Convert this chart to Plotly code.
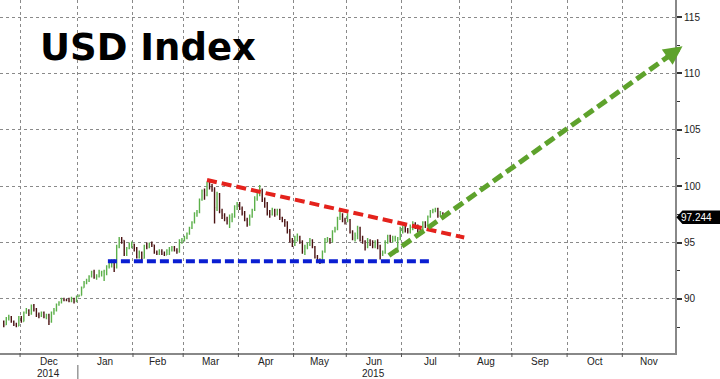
import pandas as pd
import plotly.graph_objects as go

# ---------------- data ----------------
START_DAY = "2014-11-20"
END_DAY = "2015-07-23"

OPEN = [
    88.0, 87.7, 88.3, 88.4, 88.0, 87.7, 87.6,
    88.4, 88.0, 88.8, 89.0, 88.7, 89.4, 89.1, 88.6, 88.5, 88.8, 88.4, 88.6, 88.0, 88.8, 89.0, 89.5, 89.7, 90.0, 89.9, 89.9, 89.8, 90.0, 89.8,
    90.2, 90.3, 91.0, 91.4, 91.6, 92.0, 92.4, 91.9, 92.0, 92.3, 92.4, 92.5, 92.9, 92.9, 93.4, 92.8, 94.6, 95.3, 95.2, 94.0, 94.5, 94.8,
    94.85, 94.5, 93.7, 94.1, 93.6, 94.7, 94.6, 94.9, 94.8, 94.1, 94.0, 94.2, 94.0, 93.9, 94.3, 94.4, 94.6, 94.3, 94.2, 95.2,
    95.3, 95.4, 95.8, 96.3, 96.8, 97.6, 97.7, 98.8, 99.6, 99.2, 100.3, 99.9, 99.7, 98.1, 99.3, 97.8, 97.4, 97.1, 96.9, 97.2, 97.3, 98.2,
    98.4, 98.0, 97.6, 97.0, 96.6, 97.3, 97.9, 98.9, 99.3, 99.7, 98.8, 98.5, 97.6, 97.5, 97.9, 97.5, 97.9, 97.2, 96.9, 96.8, 96.0, 95.1,
    94.8, 95.2, 95.5, 95.1, 94.2, 94.6, 94.8, 95.2, 94.6, 93.7, 93.4, 93.2, 94.2, 95.3, 95.3, 95.2, 96.0, 96.2, 97.2, 97.3, 97.0,
    96.9, 97.0, 95.9, 95.4, 95.6, 96.3, 95.2, 95.1, 94.6, 95.2, 94.9, 94.7, 95.0, 94.7, 94.0, 94.1, 95.0, 95.6, 95.2, 95.4, 94.8, 95.3,
    96.0, 96.3, 96.1, 96.0, 96.2, 96.7, 96.4, 96.2, 95.8, 96.8, 96.6, 97.3, 97.8, 97.9, 98.0, 97.4, 97.6,
]
HIGH = [
    88.1, 88.4, 88.6, 88.5, 88.1, 87.9, 88.5,
    88.5, 88.9, 89.2, 89.1, 89.5, 89.55, 89.2, 88.8, 88.9, 88.9, 88.7, 88.7, 88.9, 89.2, 89.6, 89.8, 90.1, 90.1, 90.0, 90.1, 90.2, 90.1, 90.3,
    90.4, 91.1, 91.6, 91.8, 92.1, 92.5, 92.6, 92.2, 92.6, 92.5, 92.6, 93.0, 93.2, 93.5, 93.5, 94.8, 95.5, 95.5, 95.2, 94.6, 95.0, 95.1,
    94.9, 94.6, 94.3, 94.2, 94.8, 95.0, 95.0, 95.1, 94.8, 94.3, 94.4, 94.4, 94.2, 94.4, 94.6, 94.7, 94.7, 94.5, 95.3, 95.4,
    95.6, 95.9, 96.4, 96.9, 97.7, 97.9, 98.9, 99.7, 99.8, 100.4, 100.5, 100.2, 99.9, 99.5, 99.4, 98.0, 97.6, 97.3, 97.5, 97.6, 98.3, 98.6,
    98.6, 98.2, 97.8, 97.2, 97.5, 98.0, 99.1, 99.4, 100.1, 99.8, 99.0, 98.6, 97.9, 98.1, 98.0, 98.0, 98.0, 97.3, 97.1, 96.9, 96.2, 95.4,
    95.6, 95.8, 95.6, 95.2, 94.8, 95.0, 95.4, 95.3, 94.7, 93.9, 93.6, 94.3, 95.4, 95.5, 95.4, 96.1, 96.4, 97.3, 97.9, 97.6, 97.2,
    97.6, 97.1, 96.1, 95.9, 96.5, 96.4, 95.6, 95.2, 95.4, 95.3, 95.2, 95.2, 95.3, 94.8, 94.3, 95.2, 95.7, 95.7, 95.6, 95.6, 95.5, 96.4,
    96.5, 96.5, 96.3, 96.6, 96.9, 96.8, 96.6, 96.3, 96.9, 96.9, 97.4, 97.9, 98.0, 98.1, 98.1, 97.8, 97.7,
]
LOW = [
    87.5, 87.7, 88.1, 87.9, 87.6, 87.5, 87.6,
    87.9, 88.0, 88.7, 88.5, 88.6, 88.9, 88.4, 88.3, 88.4, 88.3, 88.2, 87.7, 87.9, 88.6, 88.9, 89.4, 89.6, 89.8, 89.8, 89.7, 89.7, 89.6, 89.7,
    90.2, 90.3, 91.0, 91.3, 91.5, 91.9, 91.8, 91.7, 91.9, 92.0, 91.6, 92.1, 92.7, 92.8, 92.4, 92.7, 94.5, 94.9, 93.8, 93.8, 94.4, 94.5,
    94.2, 93.6, 93.6, 93.45, 93.6, 94.4, 94.5, 94.6, 94.0, 93.9, 93.9, 93.9, 93.8, 93.9, 93.9, 94.2, 94.2, 94.0, 94.1, 94.9,
    95.1, 95.3, 95.7, 96.2, 96.7, 97.3, 97.6, 98.7, 98.8, 99.1, 99.7, 99.5, 96.7, 97.8, 97.6, 97.1, 96.9, 96.6, 96.3, 96.8, 97.2, 97.9,
    97.9, 97.4, 96.9, 96.4, 96.5, 97.2, 97.8, 98.7, 99.1, 98.6, 98.1, 97.4, 97.2, 97.4, 97.3, 97.4, 97.0, 96.8, 96.4, 95.8, 95.0, 94.6,
    94.7, 95.1, 94.9, 94.0, 93.9, 94.4, 94.7, 94.5, 93.6, 93.3, 93.1, 93.2, 94.1, 95.0, 94.9, 95.0, 95.9, 96.1, 97.0, 96.8, 96.6,
    96.8, 95.8, 95.2, 95.1, 95.3, 95.1, 94.9, 94.3, 94.5, 94.7, 94.5, 94.5, 94.4, 93.5, 93.8, 94.0, 94.9, 95.0, 95.0, 95.1, 94.1, 95.2,
    95.8, 95.9, 95.8, 95.8, 96.1, 96.2, 95.9, 95.7, 95.8, 96.3, 96.5, 97.2, 97.6, 97.7, 97.2, 97.3, 97.1,
]
CLOSE = [
    87.7, 88.3, 88.4, 88.0, 87.7, 87.6, 88.4,
    88.0, 88.8, 89.0, 88.7, 89.4, 89.1, 88.6, 88.5, 88.8, 88.4, 88.6, 88.0, 88.8, 89.0, 89.5, 89.7, 90.0, 89.9, 89.9, 89.8, 90.0, 89.8, 90.2,
    90.3, 91.0, 91.4, 91.6, 92.0, 92.4, 91.9, 92.0, 92.3, 92.4, 92.5, 92.9, 92.9, 93.4, 92.8, 94.6, 95.3, 95.2, 94.0, 94.5, 94.8, 94.85,
    94.5, 93.7, 94.1, 93.6, 94.7, 94.6, 94.9, 94.8, 94.1, 94.0, 94.2, 94.0, 93.9, 94.3, 94.4, 94.6, 94.3, 94.2, 95.2, 95.3,
    95.4, 95.8, 96.3, 96.8, 97.6, 97.7, 98.8, 99.6, 99.2, 100.3, 99.9, 99.7, 98.1, 99.3, 97.8, 97.4, 97.1, 96.9, 97.2, 97.3, 98.2, 98.4,
    98.0, 97.6, 97.0, 96.6, 97.3, 97.9, 98.9, 99.3, 99.7, 98.8, 98.5, 97.6, 97.5, 97.9, 97.5, 97.9, 97.2, 96.9, 96.8, 96.0, 95.1, 94.8,
    95.2, 95.5, 95.1, 94.2, 94.6, 94.8, 95.2, 94.6, 93.7, 93.4, 93.2, 94.2, 95.3, 95.35, 95.2, 96.0, 96.2, 97.2, 97.3, 97.0, 96.9,
    97.0, 95.9, 95.4, 95.6, 96.3, 95.2, 95.1, 94.6, 95.2, 94.9, 94.7, 95.0, 94.7, 94.0, 94.1, 95.0, 95.6, 95.2, 95.4, 95.45, 95.3, 96.0,
    96.3, 96.1, 96.0, 96.2, 96.7, 96.4, 96.2, 95.8, 96.8, 96.6, 97.3, 97.8, 97.9, 98.0, 97.4, 97.6, 97.244,
]

LAST_LABEL = "97.244"

MONTH_STARTS = ["2014-12-01", "2015-01-01", "2015-02-01", "2015-03-01", "2015-04-01", "2015-05-01",
                "2015-06-01", "2015-07-01", "2015-08-01", "2015-09-01", "2015-10-01", "2015-11-01", "2015-12-01"]
MONTH_LABELS = ["Dec", "Jan", "Feb", "Mar", "Apr", "May", "Jun", "Jul", "Aug", "Sep", "Oct", "Nov"]
YEAR_LABELS = {"Dec": "2014", "Jun": "2015"}
YEAR_BREAK = "2015-01-01"

X_RANGE = ["2014-11-19", "2015-12-01"]
Y_RANGE = [85.21, 116.51]
Y_TICKS = [90, 95, 100, 105, 110, 115]

RESISTANCE = [("2015-03-13 12:00", 100.55), ("2015-08-05", 95.45)]   # red
SUPPORT = [("2015-01-19", 93.35), ("2015-07-16", 93.35)]             # blue
FORECAST = [("2015-06-24", 93.85), ("2015-12-04", 112.4)]            # green
FORECAST_HEAD_TAIL = ("2015-11-25", 111.3)

TITLE = "USD Index"

# ---------------- build ----------------
PLOT_H = 353.0
dates = pd.bdate_range(START_DAY, END_DAY) + pd.Timedelta(hours=12)
assert len(dates) == len(CLOSE) == len(OPEN) == len(HIGH) == len(LOW)

starts = [pd.Timestamp(s) for s in MONTH_STARTS]
grid_vals, label_vals = [], []
for s, e in zip(starts[:-1], starts[1:]):
    bd = pd.bdate_range(s, e - pd.Timedelta(days=1))
    grid_vals.append(bd[0])
    n = len(bd)
    label_vals.append(bd[n // 2] + pd.Timedelta(hours=12) if n % 2 else bd[n // 2])

fig = go.Figure()
fig.add_trace(go.Ohlc(
    x=dates, open=OPEN, high=HIGH, low=LOW, close=CLOSE,
    increasing=dict(line=dict(color="#5cb04a", width=1.4)),
    decreasing=dict(line=dict(color="#4a1212", width=1.4)),
    tickwidth=0.3, hoverinfo="skip", showlegend=False,
))

def dashed(pts, color, width, dash):
    (x0, y0), (x1, y1) = pts
    fig.add_shape(type="line", xref="x", yref="y", x0=x0, y0=y0, x1=x1, y1=y1,
                  line=dict(color=color, width=width, dash=dash), layer="above")

dashed(SUPPORT, "#0a1ed2", 4, "9px,4px")
dashed(RESISTANCE, "#e4221c", 4, "10px,5px")
dashed(FORECAST, "#5ea22c", 5, "11px,5px")

fig.add_annotation(x=FORECAST[1][0], y=FORECAST[1][1], xref="x", yref="y",
                   ax=FORECAST_HEAD_TAIL[0], ay=FORECAST_HEAD_TAIL[1], axref="x", ayref="y",
                   text="", showarrow=True, arrowhead=2, arrowsize=0.75, arrowwidth=5,
                   arrowcolor="#5ea22c")

# month boundary tick marks below the axis
for g in grid_vals:
    fig.add_shape(type="line", xref="x", yref="paper", x0=g, x1=g,
                  y0=0, y1=-4 / PLOT_H, line=dict(color="#555555", width=1))

# month labels and year labels
for lv, lab in zip(label_vals, MONTH_LABELS):
    fig.add_annotation(x=lv, y=-8 / PLOT_H, xref="x", yref="paper", text=lab,
                       showarrow=False, xanchor="center", yanchor="middle",
                       font=dict(family="Liberation Sans", size=10, color="#222222"))
    if lab in YEAR_LABELS:
        fig.add_annotation(x=lv, y=-20 / PLOT_H, xref="x", yref="paper", text=YEAR_LABELS[lab],
                           showarrow=False, xanchor="center", yanchor="middle",
                           font=dict(family="Liberation Sans", size=10, color="#222222"))

# year separator below axis
fig.add_shape(type="line", xref="x", yref="paper", x0=YEAR_BREAK, x1=YEAR_BREAK,
              y0=-12 / PLOT_H, y1=-26 / PLOT_H, line=dict(color="#999999", width=1.5))

# last value tag
last = CLOSE[-1]
h = 0.6
fig.add_shape(type="path", xref="paper", yref="y",
              path=(f"M 1.002 {last} L 1.011 {last + h} L 1.08 {last + h} "
                    f"L 1.08 {last - h} L 1.011 {last - h} Z"),
              fillcolor="#000000", line=dict(width=0), layer="above")
fig.add_annotation(x=697 / 675, y=last, xref="paper", yref="y", text=LAST_LABEL,
                   showarrow=False, xanchor="center", yanchor="middle",
                   font=dict(family="Liberation Sans", size=10, color="#ffffff"))

fig.add_annotation(x=38 / 675, y=0.866, xref="paper", yref="paper", text=f"<b>{TITLE}</b>",
                   showarrow=False, xanchor="left", yanchor="middle",
                   font=dict(family="DejaVu Sans", size=37, color="#000000"))

fig.update_layout(
    width=720, height=379,
    margin=dict(l=0, r=45, t=0, b=26, autoexpand=False),
    paper_bgcolor="white", plot_bgcolor="white",
    showlegend=False, hovermode=False,
    font=dict(family="Liberation Sans", size=10, color="#222222"),
    xaxis=dict(
        type="date", range=X_RANGE, rangebreaks=[dict(bounds=["sat", "mon"])],
        rangeslider=dict(visible=False), automargin=False,
        tickmode="array", tickvals=grid_vals, showticklabels=False,
        ticks="", showgrid=True, griddash="dot", gridcolor="#8a8a8a", gridwidth=1,
        showline=True, linecolor="#888888", linewidth=2, zeroline=False,
    ),
    yaxis=dict(
        side="right", range=Y_RANGE, tickmode="array", tickvals=Y_TICKS,
        automargin=False,
        ticks="outside", ticklen=5, tickwidth=2, tickcolor="#333333",
        showgrid=True, griddash="dot", gridcolor="#8a8a8a", gridwidth=1,
        showline=True, linecolor="#888888", linewidth=2, zeroline=False,
        tickfont=dict(size=10, color="#222222"),
        minor=dict(dtick=2.5, tick0=0, ticks="outside", ticklen=3, tickcolor="#333333",
                   tickwidth=1, showgrid=False),
    ),
)

fig.write_html("out.html", config={"displayModeBar": False},
               post_script="document.body.style.margin='0';document.body.style.overflow='hidden';")
